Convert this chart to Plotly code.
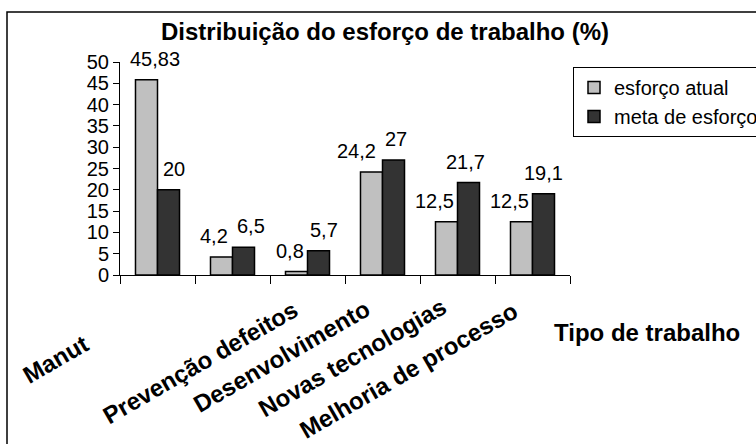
import plotly.graph_objects as go

# ---- data ----
categorias = ["Manut", "Prevenção defeitos", "Desenvolvimento", "Novas tecnologias", "Melhoria de processo", ""]
esforco_atual = [45.83, 4.2, 0.8, 24.2, 12.5, 12.5]
meta_esforco = [20, 6.5, 5.7, 27, 21.7, 19.1]
y_ticks = [0, 5, 10, 15, 20, 25, 30, 35, 40, 45, 50]
serie_nomes = ["esforço atual", "meta de esforço"]
titulo = "Distribuição do esforço de trabalho (%)"
titulo_x = "Tipo de trabalho"

# ---- layout / style constants ----
W, H = 756, 444
ML, MR, MT, MB = 120, 186, 62, 169
PW, PH = W - ML - MR, H - MT - MB
FONT = "Liberation Sans, Arial, sans-serif"
BARGAP = 0.413
# horizontal pixel nudges of the value labels (as placed in the reference)
nudge_atual = [9, -7, -6, -15, -12, -12]
nudge_meta = [5, 7, 5, 2, -3, 0]


def px_x(px):
    return (px - ML) / PW


def px_y(py):
    return (H - MB - py) / PH


def rotulo(v):
    return f"{v:g}".replace(".", ",")


x = list(range(len(categorias)))
half_bar = (1 - BARGAP) / 4  # offset of each bar centre from the category centre

fig = go.Figure()
annotations = []
series = [(serie_nomes[0], esforco_atual, "#C0C0C0", -half_bar, nudge_atual),
          (serie_nomes[1], meta_esforco, "#333333", half_bar, nudge_meta)]
for nome, vals, cor, off, nudges in series:
    fig.add_trace(go.Bar(
        x=x, y=vals, name=nome,
        marker=dict(color=cor, line=dict(color="black", width=1.5)),
        customdata=categorias,
        hovertemplate="%{customdata}: %{y}<extra>" + nome + "</extra>",
    ))
    # value labels above each bar, anchored on the bar top through the axes
    for xi, v, xs in zip(x, vals, nudges):
        annotations.append(dict(
            text=rotulo(v), xref="x", yref="y", x=xi + off, y=v,
            xanchor="center", yanchor="middle", xshift=xs, yshift=21,
            showarrow=False, font=dict(family=FONT, size=20, color="black")))

# category labels (rotated, positioned as in the reference)
label_centers = [(55, 359), (200, 362), (281, 356), (352, 357), (408, 370)]
for nome, (cx, cy) in zip(categorias, label_centers):
    annotations.append(dict(
        text="<b>" + nome + "</b>", xref="paper", yref="paper",
        x=px_x(cx), y=px_y(cy), xanchor="center", yanchor="middle",
        textangle=-30, showarrow=False,
        font=dict(family=FONT, size=24, color="black")))
annotations.append(dict(
    text="<b>" + titulo_x + "</b>", xref="paper", yref="paper",
    x=px_x(647), y=px_y(332), xanchor="center", yanchor="middle",
    showarrow=False, font=dict(family=FONT, size=24, color="black")))

fig.update_layout(
    width=W, height=H,
    margin=dict(l=ML, r=MR, t=MT, b=MB, autoexpand=False),
    paper_bgcolor="white", plot_bgcolor="white",
    barmode="group", bargap=BARGAP, bargroupgap=0,
    font=dict(family=FONT, color="black"),
    title=dict(text="<b>" + titulo + "</b>", x=385 / W, xanchor="center",
               y=1 - 32 / H, yanchor="middle", yref="container",
               font=dict(family=FONT, size=24, color="black")),
    showlegend=True,
    legend=dict(x=px_x(573), y=px_y(67), xanchor="left", yanchor="top",
                bgcolor="white", bordercolor="black", borderwidth=1,
                font=dict(family=FONT, size=20, color="black")),
    xaxis=dict(range=[-0.5, len(categorias) - 0.5],
               tickmode="array", tickvals=[i - 0.5 for i in range(len(categorias) + 1)],
               showticklabels=False, ticks="outside", ticklen=8, tickcolor="black",
               showline=True, linecolor="black", linewidth=1,
               showgrid=False, zeroline=False, fixedrange=True),
    yaxis=dict(range=[0, 50], tickmode="array", tickvals=y_ticks,
               ticks="outside", ticklen=6, tickcolor="black",
               showline=True, linecolor="black", linewidth=1,
               showgrid=False, zeroline=False,
               tickfont=dict(family=FONT, size=20, color="black"),
               fixedrange=True),
    annotations=annotations,
    shapes=[dict(type="rect", xref="paper", yref="paper",
                 x0=px_x(7), x1=px_x(W + 20), y0=px_y(H + 20), y1=px_y(12),
                 line=dict(color="black", width=1.5), fillcolor="rgba(0,0,0,0)",
                 layer="below")],
)

fig.write_html("out.html")
